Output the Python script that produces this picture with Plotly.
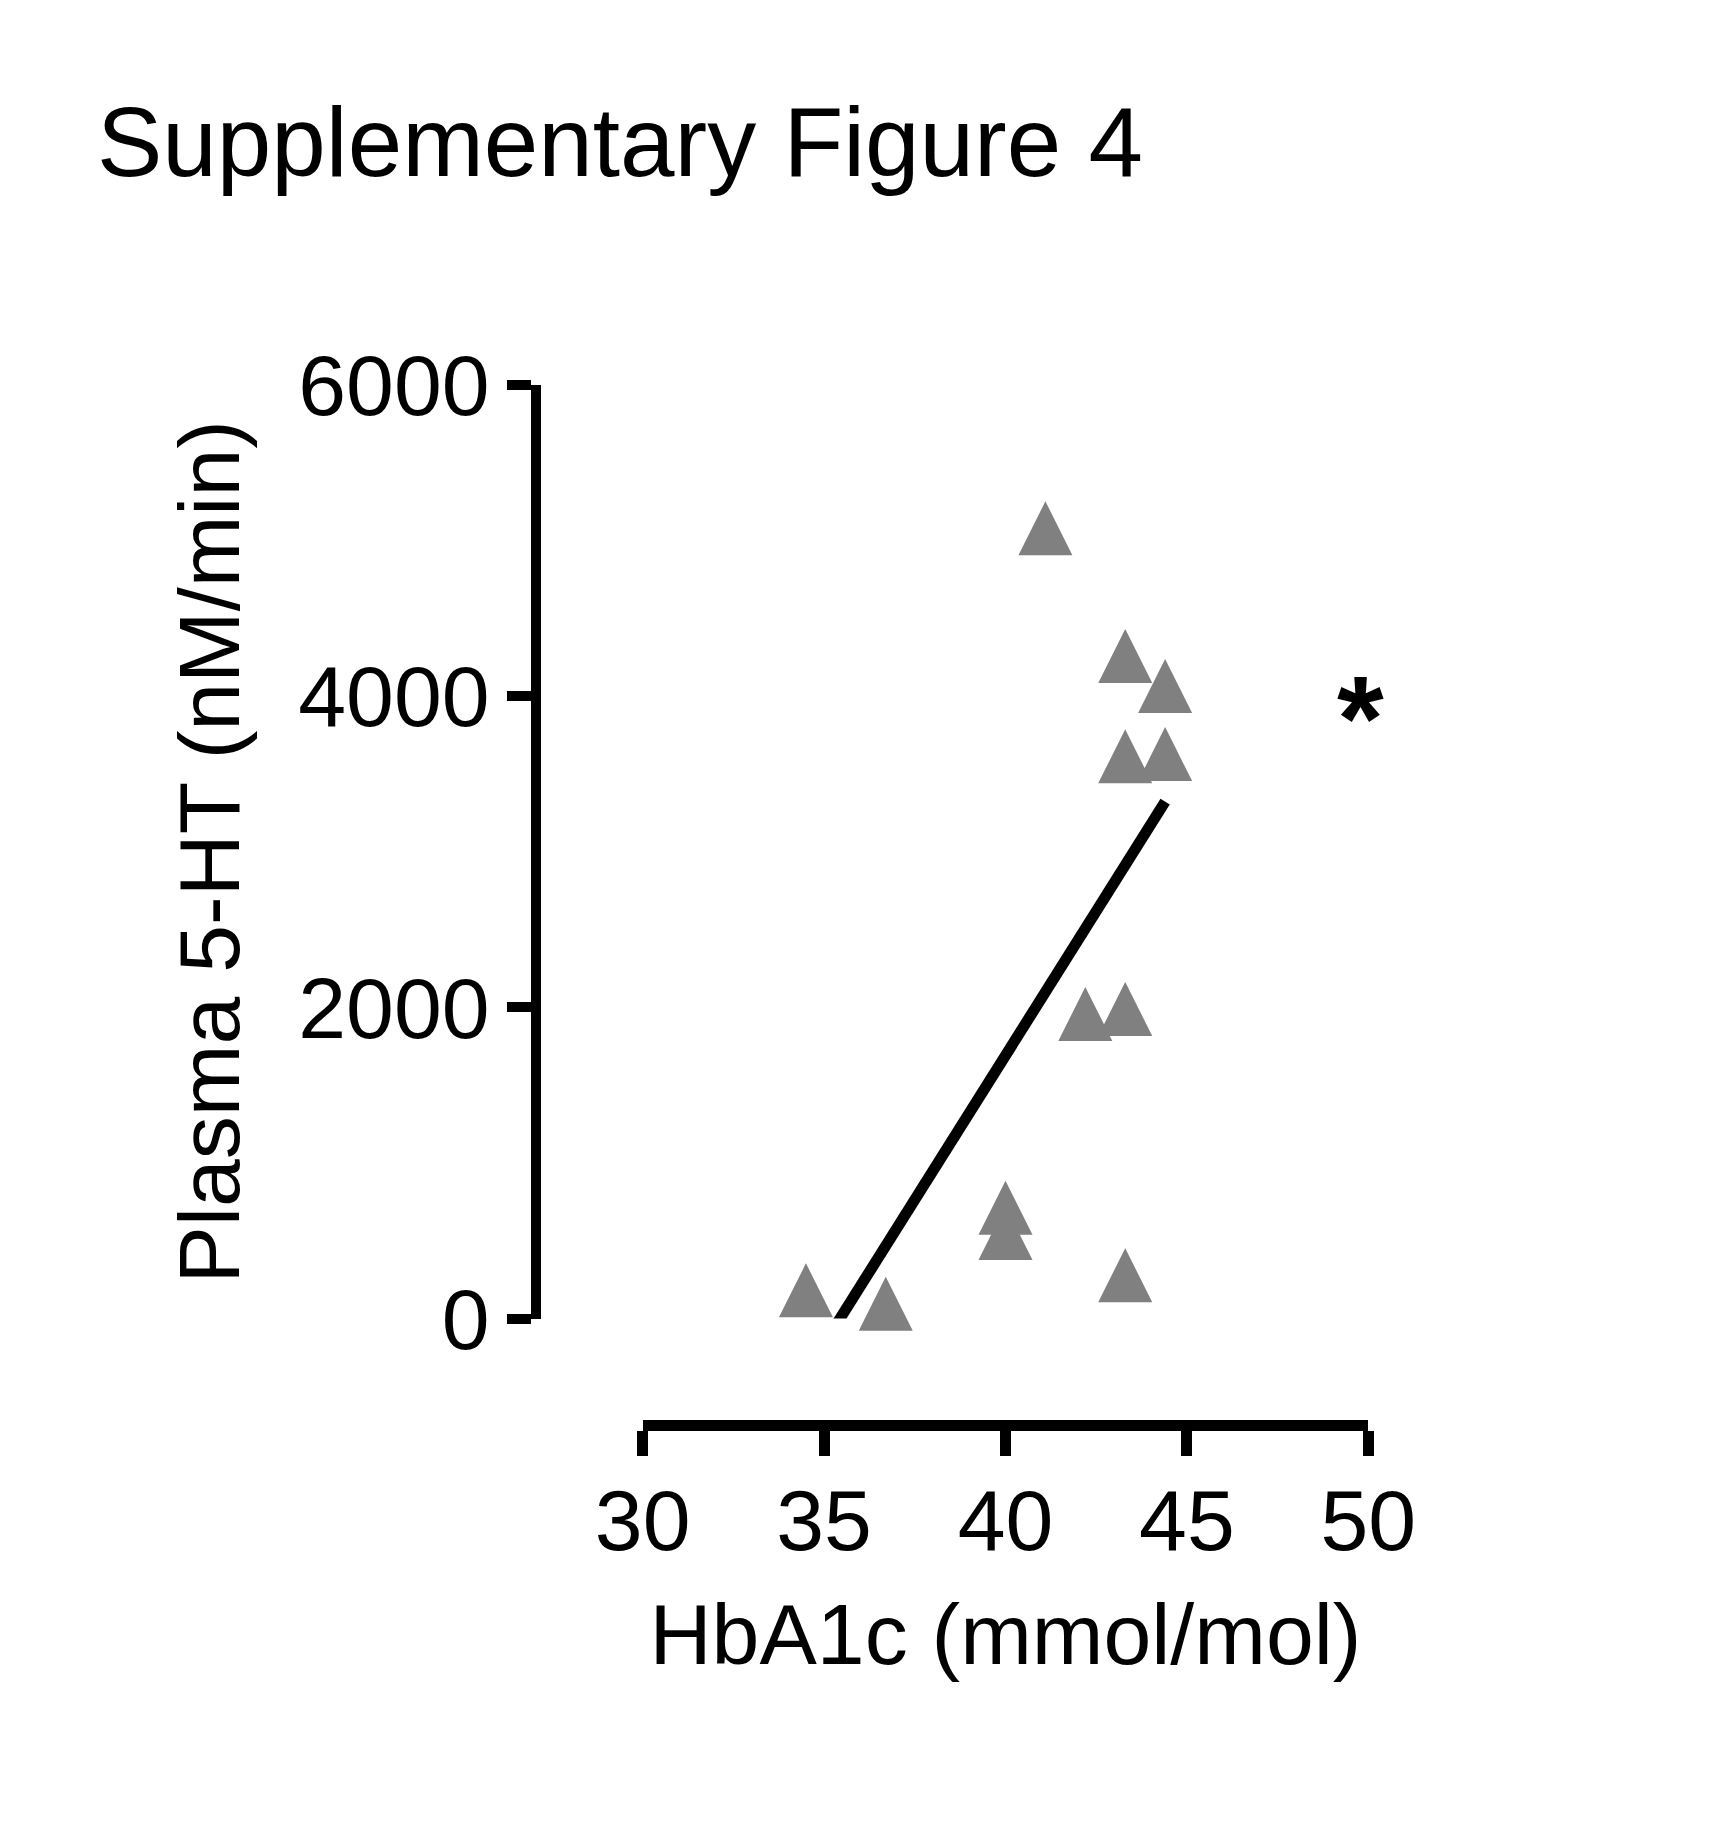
import numpy as np
import plotly.graph_objects as go

# --------------------------
# Data
# --------------------------
hba1c = [34.5, 36.7, 40.0, 40.0, 43.3, 41.1, 43.3, 44.4, 43.3, 44.4, 42.2, 43.3]
plasma_5ht = [182, 95, 712, 550, 279, 5079, 4258, 4066, 3614, 3628, 1958, 1990]

x_ticks = [30, 35, 40, 45, 50]
y_ticks = [0, 2000, 4000, 6000]

# linear fit, drawn over the data range (clipped at y=0 by the axis)
slope, intercept = np.polyfit(hba1c, plasma_5ht, 1)
x_fit = np.array([min(hba1c), max(hba1c)])
y_fit = slope * x_fit + intercept

# --------------------------
# Page geometry (body has an 8px margin)
# --------------------------
W, H = 1705, 1827
def fx(px):
    return (px - 8) / W
def fy(py):
    return 1 - (py - 8) / H

FONT = "Liberation Sans, Arial, sans-serif"
GREY = "rgb(128,128,128)"

fig = go.Figure()

# equilateral-ish triangles: arrow-down turned over, pushed up to centre on the point
fig.add_trace(go.Scatter(
    x=hba1c, y=plasma_5ht, mode="markers",
    marker=dict(symbol="arrow-down", angle=180, size=54, standoff=27,
                color=GREY, line=dict(width=0)),
    cliponaxis=False, showlegend=False
))

fig.add_trace(go.Scatter(
    x=x_fit, y=y_fit, mode="lines",
    line=dict(color="black", width=11),
    showlegend=False
))

fig.update_layout(
    width=W, height=H,
    margin=dict(l=0, r=0, t=0, b=0),
    paper_bgcolor="white", plot_bgcolor="white",
    font=dict(family=FONT, color="black", size=86),
    title=dict(text="Supplementary Figure 4", font=dict(size=98),
               x=fx(97), xanchor="left", xref="paper",
               y=fy(142), yanchor="middle"),
    xaxis=dict(
        range=[30, 50], domain=[fx(642.7), fx(1368.3)],
        anchor="free", position=fy(1424.5),
        tickvals=x_ticks, ticks="outside", ticklen=25, tickwidth=11,
        tickcolor="black", showline=True, linewidth=11, linecolor="black",
        showgrid=False, zeroline=False, automargin=False,
        tickfont=dict(size=86), ticklabelstandoff=-9,
        title=dict(text="HbA1c (mmol/mol)", font=dict(size=86), standoff=37),
    ),
    yaxis=dict(
        range=[0, 6000], domain=[fy(1318.6), fy(385)],
        anchor="free", position=fx(535.8),
        tickvals=y_ticks, ticks="outside", ticklen=24, tickwidth=10,
        tickcolor="black", showline=True, linewidth=10, linecolor="black",
        showgrid=False, zeroline=False, automargin=False,
        tickfont=dict(size=86),
        title=dict(text="Plasma 5-HT (nM/min)", font=dict(size=86), standoff=29),
    ),
    annotations=[dict(
        text="<b>*</b>", x=fx(1360.5), y=fy(718), xref="paper", yref="paper",
        xanchor="center", yanchor="middle", showarrow=False,
        font=dict(size=120, color="black")
    )],
)

fig.write_html("out.html")
